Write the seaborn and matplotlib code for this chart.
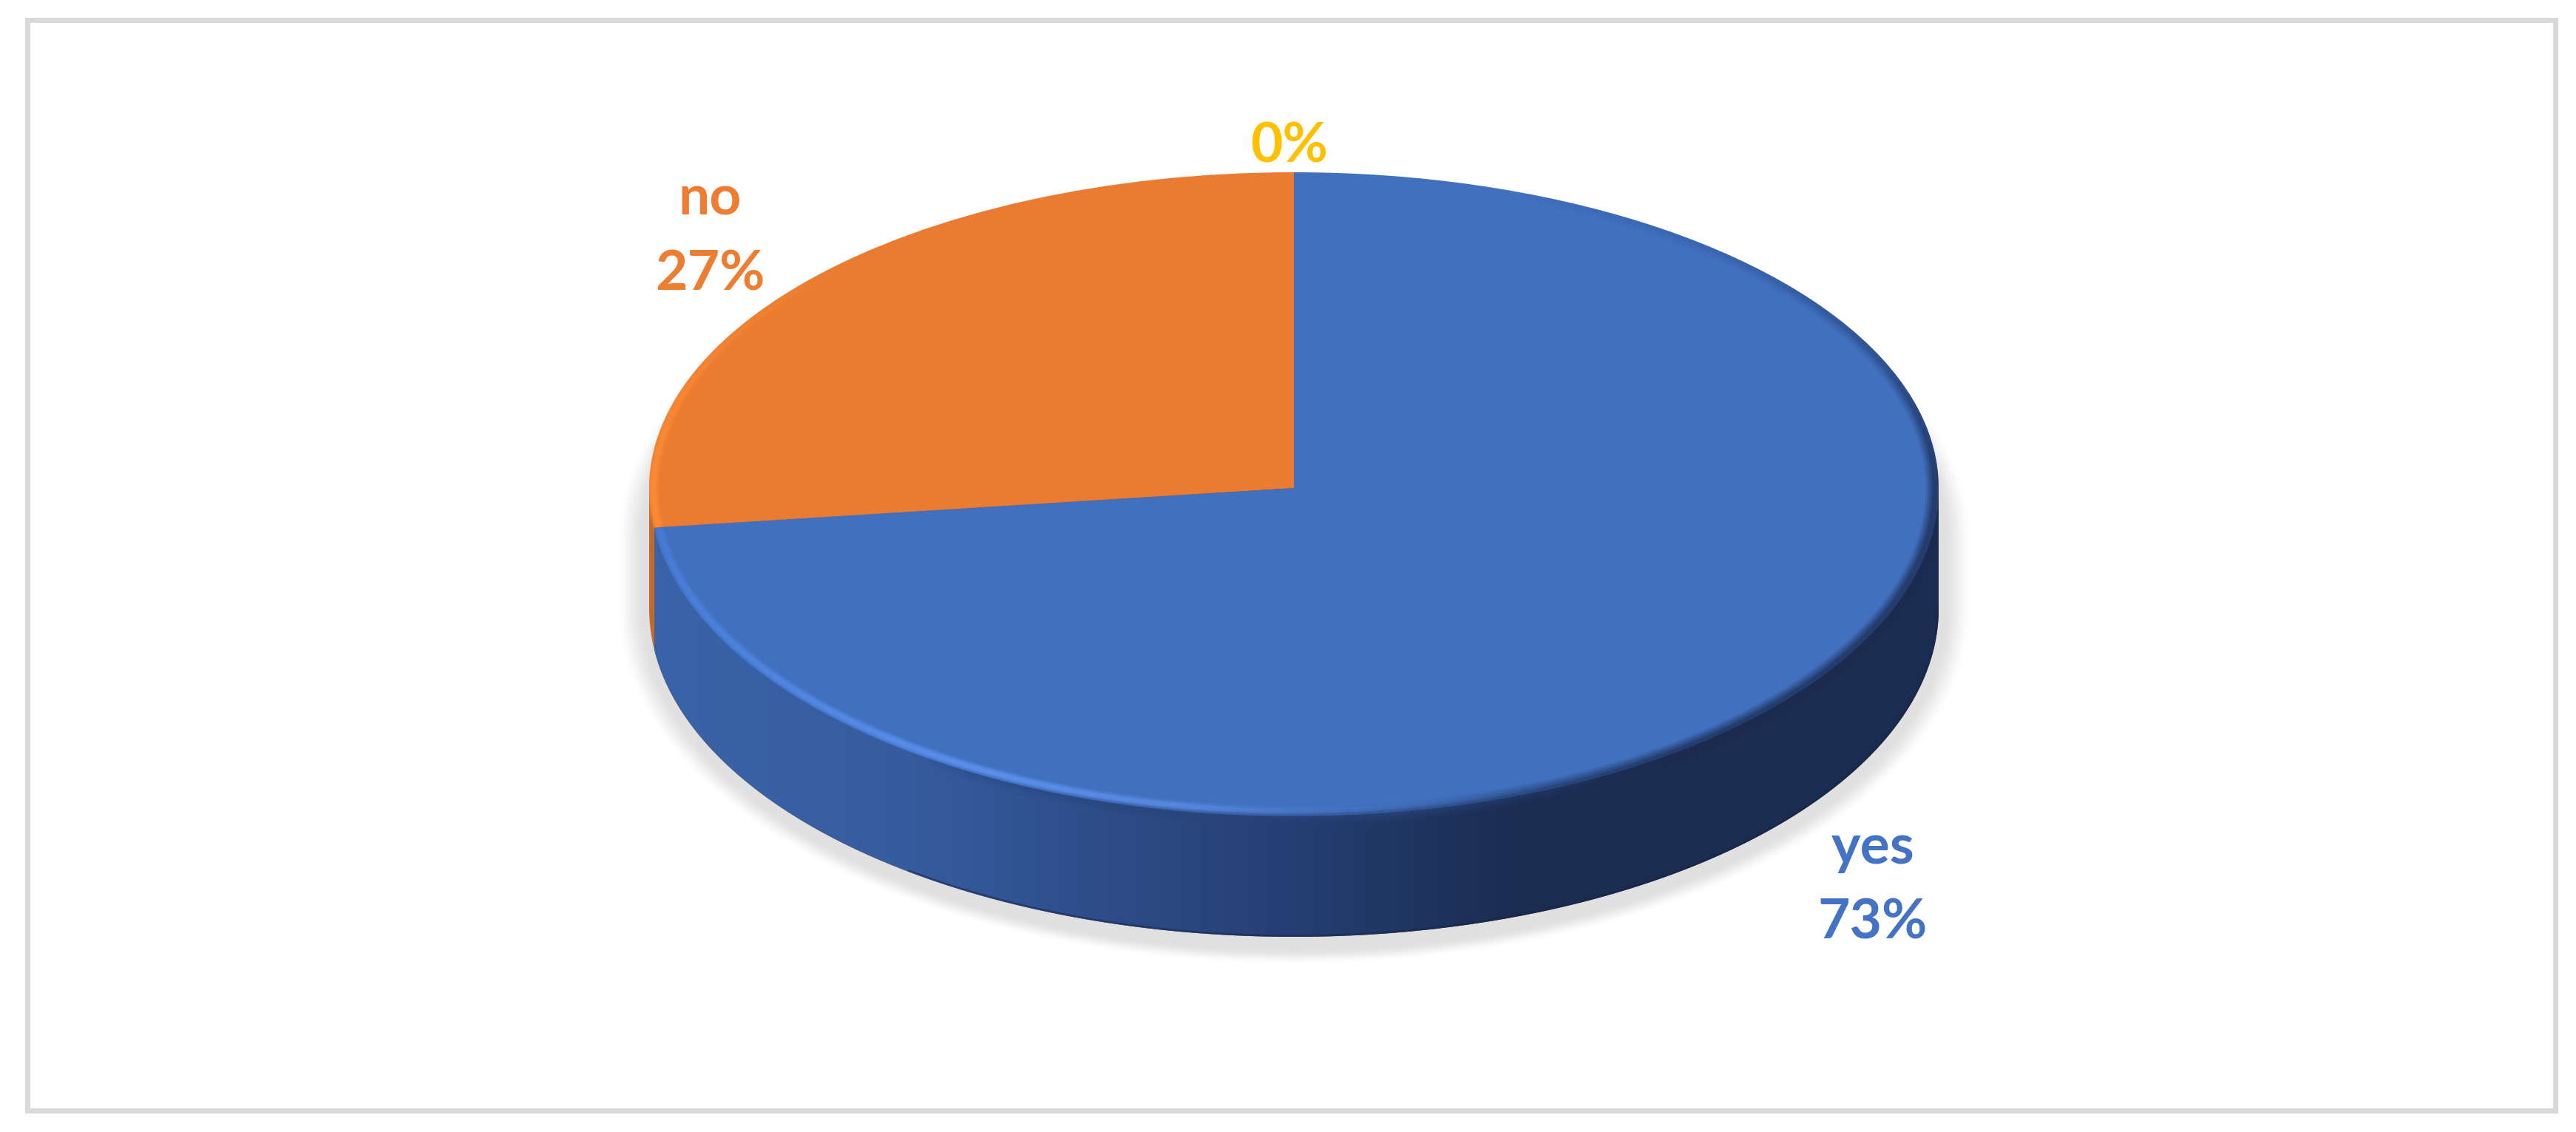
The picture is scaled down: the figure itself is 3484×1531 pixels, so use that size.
import numpy as np
import matplotlib
matplotlib.use('Agg')
import matplotlib.pyplot as plt
import seaborn as sns
from matplotlib.collections import LineCollection
from matplotlib.patches import Rectangle, PathPatch, Polygon
from matplotlib.path import Path
from matplotlib.colors import to_rgb

# Data
categories = ['yes', 'no', '']
values = [73, 27, 0]
slice_colors = ['#4170BF', '#EA7B30', '#FFC000']
label_colors = ['#4472C4', '#ED7D31', '#FFC000']

# Layout in reference pixels
W, H = 3484, 1531
cx, cy = 1750, 660
rx, ry = 872, 427
ry_front = 444  # front half of the disc looks a bit deeper than the back half
depth = 163
label_pos = [(2533, 1197), (960, 320), (1744, 198)]

sns.set_theme(style='white')
plt.rcParams['font.family'] = ['Lato', 'DejaVu Sans']
palette = sns.color_palette(slice_colors)

fig = plt.figure(figsize=(W / 100, H / 100), dpi=100, facecolor='white')
ax = fig.add_axes([0, 0, 1, 1])

wedges, _ = ax.pie(values, colors=palette, startangle=90, counterclock=False,
                   radius=1, wedgeprops={'zorder': 6, 'linewidth': 0})
ax.set_aspect('auto')
xlim = ((0 - cx) / rx, (W - cx) / rx)
ylim = ((cy - H) / ry, cy / ry)
d = depth / ry
k = ry_front / ry

# Angle where the yes slice meets the no slice
seam = np.radians(90 - 360 * values[0] / sum(values))

# Soft shadow under the pie
px, py = np.meshgrid(np.arange(W) + 0.5, np.arange(H) + 0.5)
sy = np.where(py > cy + depth, py - (cy + depth), np.where(py < cy + 70, py - (cy + 70), 0))
e = np.sqrt(((px - cx) / (rx + 46)) ** 2 + (sy / (ry_front + 38)) ** 2)
t = np.clip((1 - e) / 0.045, 0, 1)
shadow = np.zeros((H, W, 4))
shadow[..., 3] = 0.125 * t * t * (3 - 2 * t)
ax.imshow(shadow, extent=(xlim[0], xlim[1], ylim[0], ylim[1]), aspect='auto', zorder=1)

# Side wall of the pie
arc = np.linspace(np.pi, 2 * np.pi, 500)
body_x = np.cos(arc)
body_y = k * np.sin(arc) - d
verts = np.column_stack([np.r_[-1, body_x, 1, -1], np.r_[0, body_y, 0, 0]])
body = Path(verts, closed=True)
ax.add_patch(PathPatch(body, facecolor='#C46A28', edgecolor='none', zorder=2))

wall_px = [885, 1200, 1450, 1750, 2000, 2060, 2622]
wall_cols = ['#3A63A9', '#375DA0', '#2F4F8C', '#253F73', '#1C2F56', '#1A2C50', '#1A2C50']
xs = np.arange(cx + rx * np.cos(seam), cx + rx)
rgb = np.array([to_rgb(c) for c in wall_cols])
grad = np.stack([np.interp(xs, wall_px, rgb[:, i]) for i in range(3)], axis=-1)[None, :, :]
im = ax.imshow(grad, extent=(np.cos(seam), 1, -1.6, 0.2), aspect='auto', zorder=3)
im.set_clip_path(PathPatch(body, transform=ax.transData))

# Darker band along the bottom edge of the wall
keep = body_x > -0.6
edge_line, = ax.plot(body_x[keep], body_y[keep], color='#14244A', lw=4, alpha=0.45, zorder=4)
edge_line.set_clip_path(PathPatch(body, transform=ax.transData))

# Front part of the top face, below the pie centre line
front = np.linspace(seam, 0, 300)
ax.add_patch(Polygon(np.column_stack([np.cos(front), k * np.sin(front)]),
                     facecolor=palette[0], edgecolor='none', zorder=5))

# Full outline, keeps the rim strokes inside the pie
top = np.linspace(0, np.pi, 300)
outline = Path(np.column_stack([np.r_[np.cos(top), body_x, 1],
                                np.r_[np.sin(top), body_y, 0]]), closed=True)


def rim(deg_from, deg_to, stops, cols, widths, sx=1.0, sy=1.0):
    """Stack soft strokes along the top edge of the pie"""
    theta = np.radians(np.linspace(deg_from, deg_to, 700))
    ys = np.where(np.sin(theta) < 0, k, 1.0) * sy * np.sin(theta)
    pts = np.column_stack([sx * np.cos(theta), ys])
    segs = np.stack([pts[:-1], pts[1:]], axis=1)
    mid = np.degrees((theta[:-1] + theta[1:]) / 2)
    cols = np.array(cols)
    base = np.stack([np.interp(mid, stops, cols[:, i]) for i in range(4)], axis=-1)
    for w, a in widths:
        c = base.copy()
        c[:, 3] *= a
        lc = LineCollection(segs, colors=c, linewidths=w * 0.72, capstyle='butt', zorder=7)
        ax.add_collection(lc, autolim=False)
        lc.set_clip_path(PathPatch(outline, transform=ax.transData))


seam_deg = np.degrees(seam)
dark = (0.10, 0.17, 0.31)
wall_mid = (0.16, 0.27, 0.48)
rim(-125, 70,
    [-125, -100, -80, -55, 0, 25, 45, 70],
    [wall_mid + (0.0,), wall_mid + (0.75,), wall_mid + (0.95,), dark + (1.0,), dark + (1.0,),
     dark + (0.4,), dark + (0.15,), dark + (0.0,)],
    [(26, 0.15), (20, 0.22), (14, 0.3), (8, 0.4)], sx=0.995)

peak = (0.40, 0.62, 1.0)
rim(seam_deg, -65,
    [-173, -150, -118, -100, -85, -65],
    [(0.30, 0.51, 0.88, 0.8), (0.33, 0.56, 0.93, 0.85), peak + (1.0,), peak + (0.8,),
     (0.33, 0.53, 0.88, 0.5), (0.33, 0.53, 0.88, 0.0)],
    [(14, 0.25), (10, 0.35), (6, 0.45)], sx=0.992, sy=0.984)

org = (1.0, 0.56, 0.21)
rim(seam_deg - 0.3, -232,
    [-232, -205, -185, -173],
    [org + (0.0,), org + (0.5,), org + (1.0,), org + (1.0,)],
    [(16, 0.3), (10, 0.5), (6, 0.6)], sx=0.993, sy=0.993)

ax.set_xlim(xlim)
ax.set_ylim(ylim)
ax.set_axis_off()

# Labels
for name, val, col, (lx, ly) in zip(categories, values, label_colors, label_pos):
    txt = f'{name}\n{val}%' if name else f'{val}%'
    fig.text(lx / W, 1 - ly / H, txt, color=col, fontsize=54, fontweight='bold',
             ha='center', va='center', linespacing=1.58, zorder=10)

# Chart border
fig.add_artist(Rectangle((36.5 / W, 1 - 1501.5 / H), (3455.5 - 36.5) / W, (1501.5 - 26.5) / H,
                         transform=fig.transFigure, fill=False, edgecolor='#D9D9D9',
                         linewidth=5.04))

fig.savefig('out.png', dpi=100)
plt.close(fig)
